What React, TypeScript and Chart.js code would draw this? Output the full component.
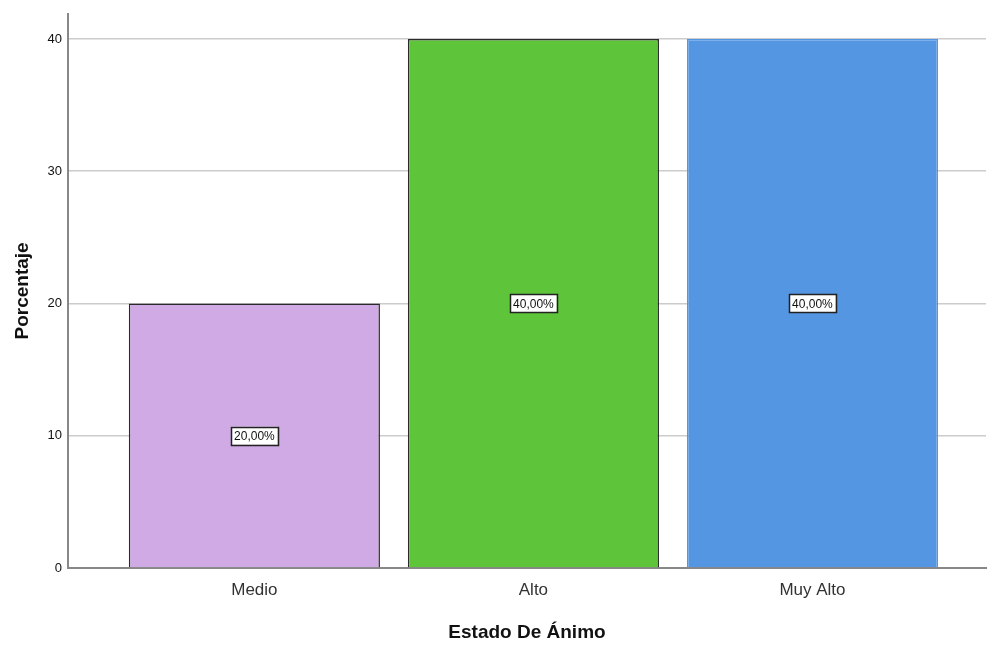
import React, { useEffect, useRef } from "react";
import { Chart, registerables } from "chart.js";

Chart.register(...registerables);

const categories = ["Medio", "Alto", "Muy Alto"];
const percentages = [20, 40, 40];
const barColors = ["#D0AAE4", "#5EC43A", "#5596E3"];
const barBorders = ["#2a2a2a", "#2a2a2a", "#5596E3"];
const yTicks = [0, 10, 20, 30, 40];
const valueLabels = ["20,00%", "40,00%", "40,00%"];

const labelBoxPlugin = {
  id: "labelBox",
  afterDatasetsDraw(chart: any) {
    const ctx = chart.ctx;
    const meta = chart.getDatasetMeta(0);
    const yScale = chart.scales.y;
    ctx.save();
    ctx.font = "12px Arial, 'Liberation Sans', sans-serif";
    ctx.textAlign = "center";
    ctx.textBaseline = "middle";
    meta.data.forEach((bar: any, i: number) => {
      const text = valueLabels[i];
      const cx = bar.x;
      const cy = yScale.getPixelForValue(percentages[i] / 2);
      const w = ctx.measureText(text).width + 6;
      const h = 18;
      ctx.fillStyle = "#ffffff";
      ctx.fillRect(cx - w / 2, cy - h / 2, w, h);
      ctx.strokeStyle = "#222222";
      ctx.lineWidth = 1.5;
      ctx.strokeRect(Math.round(cx - w / 2) + 0.5, Math.round(cy - h / 2) + 0.5, Math.round(w), h);
      ctx.fillStyle = "#111111";
      ctx.fillText(text, cx, cy + 1);
    });
    ctx.restore();
  },
};

export default function App() {
  const ref = useRef<HTMLCanvasElement>(null);
  useEffect(() => {
    const prevMargin = document.body.style.margin;
    document.body.style.margin = "0";
    const chart = new Chart(ref.current!, {
      type: "bar",
      data: {
        datasets: [
          {
            data: categories.map((_, i) => ({ x: i, y: percentages[i] })) as any,
            backgroundColor: barColors,
            borderColor: barBorders,
            borderWidth: 1.5,
            barPercentage: 0.9,
            categoryPercentage: 1,
          },
        ],
      },
      options: {
        responsive: false,
        animation: false,
        layout: { padding: { top: 12, right: 1, left: 0, bottom: 0 } },
        plugins: { legend: { display: false }, tooltip: { enabled: false } },
        scales: {
          x: {
            type: "linear",
            offset: false,
            min: -0.668,
            max: 2.622,
            grid: { display: false, drawTicks: false, offset: false },
            border: { display: true, color: "#888888", width: 2 },
            afterBuildTicks: (scale: any) => {
              scale.ticks = categories.map((_, i) => ({ value: i }));
            },
            afterFit: (scale: any) => {
              scale.height = 78;
            },
            ticks: {
              autoSkip: false,
              maxRotation: 0,
              padding: 12,
              color: "#333333",
              font: { size: 17, family: "Arial, 'Liberation Sans', sans-serif" },
              callback: (v: any) => categories[v] ?? "",
            },
            title: {
              display: true,
              text: "Estado De Ánimo",
              color: "#111111",
              font: { size: 19, weight: "bold", family: "Arial, 'Liberation Sans', sans-serif" },
              padding: { top: 0, bottom: 2 },
            },
          },
          y: {
            min: 0,
            max: 41.9,
            grid: { color: "#cccccc", lineWidth: 1.5, drawTicks: false },
            border: { display: true, color: "#888888", width: 2 },
            afterBuildTicks: (scale: any) => {
              scale.ticks = yTicks.map((v) => ({ value: v }));
            },
            afterFit: (scale: any) => {
              scale.width = 68;
            },
            ticks: {
              padding: 6,
              color: "#111111",
              font: { size: 13, family: "Arial, 'Liberation Sans', sans-serif" },
            },
            title: {
              display: true,
              text: "Porcentaje",
              color: "#111111",
              font: { size: 19, weight: "bold", family: "Arial, 'Liberation Sans', sans-serif" },
              padding: { top: 11, bottom: 0 },
            },
          },
        },
      },
      plugins: [labelBoxPlugin],
    });
    return () => {
      chart.destroy();
      document.body.style.margin = prevMargin;
    };
  }, []);
  return (
    <div style={{ position: "absolute", left: 0, top: 0, width: 987, height: 646, background: "#ffffff" }}>
      <canvas ref={ref} width={987} height={646} />
    </div>
  );
}
